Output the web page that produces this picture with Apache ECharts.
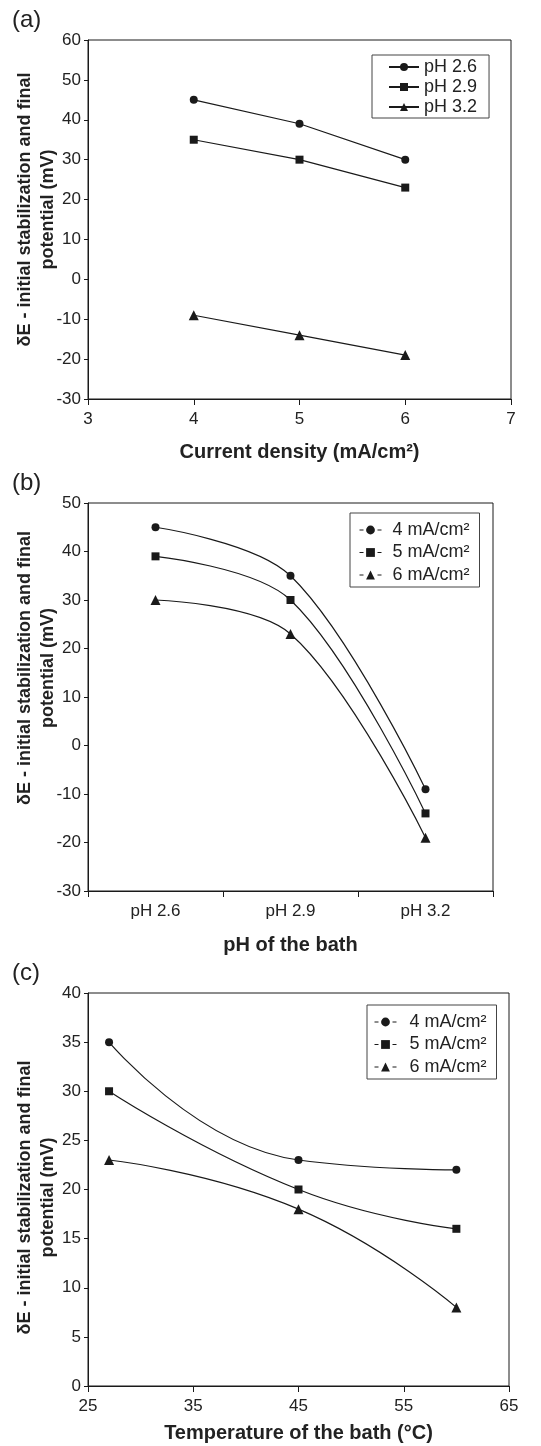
<!DOCTYPE html>
<html>
<head>
<meta charset="utf-8">
<script src="https://cdn.jsdelivr.net/npm/echarts@6/dist/echarts.min.js"></script>
<style>
html,body{margin:0;padding:0;background:#fff;}
#main{width:541px;height:1446px;}
</style>
</head>
<body>
<div id="main"></div>
<script>
// ---- Data ----
const panelLabels = ['(a)', '(b)', '(c)'];
const yTitle = 'δE - initial stabilization and final\npotential (mV)';

// (a) potential vs current density
const currentDensity = [4, 5, 6];
const aNames = ['pH 2.6', 'pH 2.9', 'pH 3.2'];
const aPH26 = [45, 39, 30];
const aPH29 = [35, 30, 23];
const aPH32 = [-9, -14, -19];

// (b) potential vs pH
const phCategories = ['pH 2.6', 'pH 2.9', 'pH 3.2'];
const cdNames = ['4 mA/cm²', '5 mA/cm²', '6 mA/cm²'];
const b4 = [45, 35, -9];
const b5 = [39, 30, -14];
const b6 = [30, 23, -19];

// (c) potential vs temperature
const temperatures = [27, 45, 60];
const c4 = [35, 23, 22];
const c5 = [30, 20, 16];
const c6 = [23, 18, 8];

const symbols = ['circle', 'rect', 'triangle'];
const symbolSizes = [8, 8, 10];

// ---- Chart ----
const FONT = "'Liberation Sans', Arial, sans-serif";
const INK = '#1a1a1a';
const chart = echarts.init(document.getElementById('main'), null, {renderer: 'canvas'});

function pairs(xs, ys) { return xs.map((x, i) => [x, ys[i]]); }

const gridBase = {show: true, borderColor: INK, borderWidth: 1, backgroundColor: 'transparent'};
const grids = [
  Object.assign({left: 88, top: 40, width: 423, height: 359}, gridBase),
  Object.assign({left: 88, top: 503, width: 405, height: 388}, gridBase),
  Object.assign({left: 88, top: 993, width: 421, height: 393}, gridBase)
];

function axisCommon() {
  return {
    axisLine: {show: true, onZero: false, lineStyle: {color: INK, width: 1}},
    splitLine: {show: false},
    nameMoveOverlap: false,
    axisLabel: {fontFamily: FONT, fontSize: 17, color: '#222'},
    nameTextStyle: {fontFamily: FONT, fontSize: 20, fontWeight: 'bold', color: '#222'}
  };
}

function xValue(gridIndex, min, max, interval, name, gap) {
  const a = axisCommon();
  return Object.assign(a, {
    type: 'value', gridIndex, min, max, interval,
    name, nameLocation: 'middle', nameGap: gap,
    axisTick: {show: true, length: 6, lineStyle: {color: INK}},
    axisLabel: Object.assign(a.axisLabel, {margin: 12})
  });
}

function yValue(gridIndex, min, max, interval, shift) {
  const a = axisCommon();
  const pad = shift >= 0 ? [0, 0, 0, 2 * shift] : [0, -2 * shift, 0, 0];
  return Object.assign(a, {
    type: 'value', gridIndex, min, max, interval,
    name: yTitle, nameLocation: 'middle', nameGap: 28, nameRotate: 90,
    nameTextStyle: {fontFamily: FONT, fontSize: 18, fontWeight: 'bold', color: '#222', lineHeight: 23, align: 'center', padding: pad},
    axisTick: {show: true, length: 4, lineStyle: {color: INK}},
    axisLabel: Object.assign(a.axisLabel, {margin: 7})
  });
}

const xB = Object.assign(axisCommon(), {
  type: 'category', gridIndex: 1, data: phCategories, boundaryGap: true,
  name: 'pH of the bath', nameLocation: 'middle', nameGap: 44,
  axisTick: {show: true, length: 6, alignWithLabel: false, lineStyle: {color: INK}}
});
xB.axisLabel.margin = 12;

function lineSeries(name, data, idx, xi, yi, smooth) {
  return {
    type: 'line', name, data, xAxisIndex: xi, yAxisIndex: yi,
    symbol: symbols[idx], symbolSize: symbolSizes[idx],
    smooth: smooth,
    lineStyle: {color: INK, width: 1.2},
    itemStyle: {color: INK},
    emphasis: {disabled: true},
    animation: false
  };
}

const legendText = {fontFamily: FONT, fontSize: 18, color: '#222'};

const option = {
  backgroundColor: '#fff',
  animation: false,
  title: [
    {text: panelLabels[0], left: 12, top: 8, padding: 0, textStyle: {fontFamily: FONT, fontSize: 24, fontWeight: 'normal', color: '#222'}},
    {text: panelLabels[1], left: 12, top: 471, padding: 0, textStyle: {fontFamily: FONT, fontSize: 24, fontWeight: 'normal', color: '#222'}},
    {text: panelLabels[2], left: 12, top: 961, padding: 0, textStyle: {fontFamily: FONT, fontSize: 24, fontWeight: 'normal', color: '#222'}}
  ],
  grid: grids,
  xAxis: [
    xValue(0, 3, 7, 1, 'Current density (mA/cm²)', 43),
    xB,
    xValue(2, 25, 65, 10, 'Temperature of the bath (°C)', 37)
  ],
  yAxis: [
    yValue(0, -30, 60, 10, 10),
    yValue(1, -30, 50, 10, 29),
    yValue(2, 0, 40, 5, -8)
  ],
  legend: [
    {
      data: aNames, orient: 'vertical', left: 372, top: 55,
      itemWidth: 30, itemHeight: 10, itemGap: 2,
      padding: [3, 12, 2, 16],
      borderColor: '#444', borderWidth: 1,
      selectedMode: false,
      textStyle: legendText
    },
    {
      data: cdNames, orient: 'vertical', left: 350, top: 513,
      itemWidth: 22, itemHeight: 11, itemGap: 4.5,
      padding: [8, 10, 3, 9],
      borderColor: '#444', borderWidth: 1,
      selectedMode: false,
      lineStyle: {type: [4, 14], width: 1, color: INK},
      textStyle: Object.assign({padding: [0, 0, 0, 6]}, legendText)
    },
    {
      data: cdNames, orient: 'vertical', left: 367, top: 1005,
      itemWidth: 22, itemHeight: 11, itemGap: 4.5,
      padding: [8, 10, 3, 7],
      borderColor: '#444', borderWidth: 1,
      selectedMode: false,
      lineStyle: {type: [4, 14], width: 1, color: INK},
      textStyle: Object.assign({padding: [0, 0, 0, 8]}, legendText)
    }
  ],
  series: [
    lineSeries(aNames[0], pairs(currentDensity, aPH26), 0, 0, 0, false),
    lineSeries(aNames[1], pairs(currentDensity, aPH29), 1, 0, 0, false),
    lineSeries(aNames[2], pairs(currentDensity, aPH32), 2, 0, 0, false),
    lineSeries(cdNames[0], b4, 0, 1, 1, 0.35),
    lineSeries(cdNames[1], b5, 1, 1, 1, 0.35),
    lineSeries(cdNames[2], b6, 2, 1, 1, 0.35),
    lineSeries(cdNames[0], pairs(temperatures, c4), 0, 2, 2, 0.5),
    lineSeries(cdNames[1], pairs(temperatures, c5), 1, 2, 2, 0.5),
    lineSeries(cdNames[2], pairs(temperatures, c6), 2, 2, 2, 0.5)
  ]
};
chart.setOption(option);
</script>
</body>
</html>
